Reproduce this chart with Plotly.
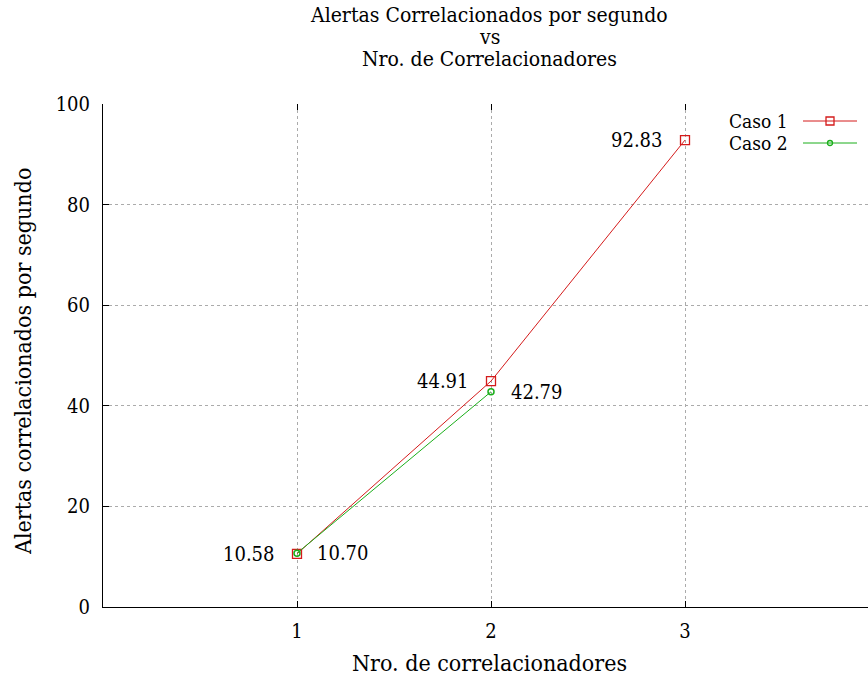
import plotly.graph_objects as go

# Number of correlators on the x axis
correladores = [1, 2, 3]

# Correlated alerts per second for each case
caso1 = [10.58, 44.91, 92.83]
caso2_x = [1, 2]
caso2 = [10.70, 42.79]

xticks = [1, 2, 3]
yticks = [0, 20, 40, 60, 80, 100]

FONT = "DejaVu Serif Condensed, Liberation Serif, serif"
RED = "#d41b1b"
GREEN = "#1aae1a"

W, H = 868, 675
L, R, T, B = 103, 0, 104, 68
PW, PH = W - L - R, H - T - B


def px(x):
    return (x - L) / PW


def py(y):
    return (H - B - y) / PH


fig = go.Figure()

fig.add_trace(go.Scatter(
    x=correladores, y=caso1, mode="lines+markers", name="Caso 1",
    line=dict(color=RED, width=1),
    marker=dict(symbol="square-open", size=9, color=RED, line=dict(width=1.3)),
    showlegend=False,
))
fig.add_trace(go.Scatter(
    x=caso2_x, y=caso2, mode="lines+markers", name="Caso 2",
    line=dict(color=GREEN, width=1),
    marker=dict(symbol="circle-open", size=6, color=GREEN, line=dict(width=1.5)),
    showlegend=False,
))
# invisible trace that carries the mirrored ticks on the top edge
fig.add_trace(go.Scatter(x=correladores, y=caso1, xaxis="x2", mode="none",
                         hoverinfo="skip", showlegend=False))

annotations = []

# value labels: Caso 1 on the left of each point, Caso 2 on the right
for xv, yv in zip(correladores, caso1):
    annotations.append(dict(x=xv, y=yv, xref="x", yref="y", text=f"{yv:.2f}",
                            showarrow=False, xanchor="right", yanchor="middle",
                            xshift=-20, font=dict(family=FONT, size=20, color="black")))
for xv, yv in zip(caso2_x, caso2):
    annotations.append(dict(x=xv, y=yv, xref="x", yref="y", text=f"{yv:.2f}",
                            showarrow=False, xanchor="left", yanchor="middle",
                            xshift=18, font=dict(family=FONT, size=20, color="black")))

# three-line title
title_lines = ["Alertas Correlacionados por segundo", "vs", "Nro. de Correlacionadores"]
for line, ypix in zip(title_lines, [15, 37, 59]):
    annotations.append(dict(x=px(489), y=py(ypix), xref="paper", yref="paper", text=line,
                            showarrow=False, xanchor="center", yanchor="middle",
                            font=dict(family=FONT, size=21, color="black")))

# axis titles
annotations.append(dict(x=px(489), y=py(663), xref="paper", yref="paper",
                        text="Nro. de correlacionadores", showarrow=False,
                        xanchor="center", yanchor="middle",
                        font=dict(family=FONT, size=23, color="black")))
annotations.append(dict(x=px(23), y=py(362), xref="paper", yref="paper",
                        text="Alertas correlacionados por segundo", showarrow=False,
                        textangle=-90, xanchor="center", yanchor="middle",
                        font=dict(family=FONT, size=23, color="black")))

# key in the top right corner: label, then line sample with its point
shapes = []
key = [("Caso 1", RED, "square", 121), ("Caso 2", GREEN, "circle", 143)]
for label, col, kind, ypix in key:
    annotations.append(dict(x=px(790), y=py(ypix), xref="paper", yref="paper", text=label,
                            showarrow=False, xanchor="right", yanchor="middle",
                            font=dict(family=FONT, size=19, color="black")))
    shapes.append(dict(type="line", xref="paper", yref="paper",
                       x0=px(803), x1=px(857), y0=py(ypix), y1=py(ypix),
                       line=dict(color=col, width=1)))
    r = 4 if kind == "square" else 2.5
    shapes.append(dict(type="rect" if kind == "square" else "circle",
                       xref="paper", yref="paper",
                       x0=px(830 - r), x1=px(830 + r), y0=py(ypix - r), y1=py(ypix + r),
                       line=dict(color=col, width=1.3), fillcolor="rgba(0,0,0,0)"))

fig.update_layout(
    width=W, height=H,
    margin=dict(l=L, r=R, t=T, b=B),
    paper_bgcolor="white", plot_bgcolor="white",
    font=dict(family=FONT, size=18, color="black"),
    annotations=annotations,
    shapes=shapes,
    showlegend=False,
    xaxis=dict(
        range=[0, PW / 194.0], tickvals=xticks, ticktext=[str(v) for v in xticks],
        showline=True, linecolor="black", linewidth=1,
        ticks="inside", ticklen=6, tickcolor="black",
        showgrid=True, gridcolor="#ababab", griddash="dot", gridwidth=1,
        zeroline=False, ticklabelstandoff=6,
        tickfont=dict(family=FONT, size=20, color="black"),
    ),
    xaxis2=dict(overlaying="x", matches="x", side="top", tickvals=xticks,
                ticks="inside", ticklen=6, tickcolor="black",
                showticklabels=False, showline=False, showgrid=False, zeroline=False),
    yaxis=dict(
        range=[0, 100], tickvals=yticks, ticktext=[str(v) for v in yticks],
        showline=True, linecolor="black", linewidth=1,
        ticks="inside", ticklen=6, tickcolor="black",
        showgrid=True, gridcolor="#ababab", griddash="dot", gridwidth=1,
        zeroline=False, ticklabelstandoff=8,
        tickfont=dict(family=FONT, size=20, color="black"),
    ),
)

fig.write_html("out.html")
